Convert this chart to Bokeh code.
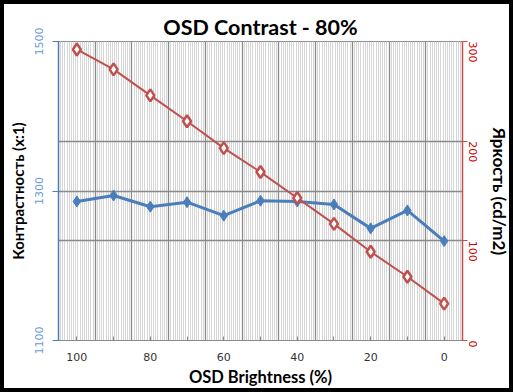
import math
import numpy as np
from bokeh.plotting import figure
from bokeh.models import Range1d, LinearAxis, FixedTicker, Grid, ColumnDataSource
from bokeh.embed import file_html
from bokeh.resources import INLINE

# ---- data ----
brightness = [100, 90, 80, 70, 60, 50, 40, 30, 20, 10, 0]
contrast = [1286, 1294, 1279, 1285, 1267, 1287, 1286, 1282, 1250, 1274, 1233]
luminance = [292, 272, 246, 220, 193, 169, 143, 117, 89, 64, 37]
x_labeled_ticks = [100, 80, 60, 40, 20, 0]
x_minor_ticks = [90, 70, 50, 30, 10]
left_ticks = [1100, 1300, 1500]
right_ticks = [0, 100, 200, 300]

BLUE = "#4a7ebb"
RED = "#c0504d"
GRID = "#8a8a8a"
FONT = "Lato"

src = ColumnDataSource(dict(x=brightness, c=contrast, l=luminance))

p = figure(width=513, height=392, output_backend="svg", toolbar_location=None,
           x_range=Range1d(105, -5), y_range=Range1d(1100, 1500),
           min_border_left=54, min_border_right=55, min_border_top=37, min_border_bottom=56)
p.styles = {"border": "4px solid black"}
p.background_fill_color = "white"
p.border_fill_color = "white"
p.outline_line_color = GRID
p.outline_line_width = 1

# title
p.title.text = "OSD Contrast - 80%"
p.title.align = "center"
p.title.offset = -4
p.title.text_font = FONT
p.title.text_font_size = "21.5px"
p.title.text_font_style = "bold"
p.title.text_color = "black"
p.title.standoff = 4

# x axis
xa = p.xaxis[0]
xa.ticker = FixedTicker(ticks=x_labeled_ticks, minor_ticks=x_minor_ticks)
xa.axis_label = "OSD Brightness (%)"
xa.axis_label_text_font = FONT
xa.axis_label_text_font_size = "16.5px"
xa.axis_label_text_font_style = "bold"
xa.axis_label_text_color = "black"
xa.axis_label_standoff = 3
xa.major_label_text_font = "DejaVu Sans"
xa.major_label_text_font_size = "11px"
xa.major_label_text_color = "#333333"
xa.major_label_standoff = 12
xa.axis_line_color = GRID
xa.major_tick_line_color = GRID
xa.minor_tick_line_color = GRID
xa.major_tick_in = 4
xa.major_tick_out = 0
xa.minor_tick_in = 4
xa.minor_tick_out = 0

# left axis
ya = p.yaxis[0]
ya.ticker = FixedTicker(ticks=left_ticks)
ya.axis_label = "Контрастность (x:1)"
ya.axis_label_text_font = FONT
ya.axis_label_text_font_size = "15px"
ya.axis_label_text_font_style = "bold"
ya.axis_label_text_color = "black"
ya.axis_label_standoff = 5
ya.major_label_orientation = "vertical"
ya.major_label_text_font = "DejaVu Sans"
ya.major_label_text_font_size = "11px"
ya.major_label_text_color = "#6b9ad6"
ya.major_label_standoff = 10
ya.axis_line_color = BLUE
ya.axis_line_width = 1.5
ya.major_tick_line_color = BLUE
ya.major_tick_in = 0
ya.major_tick_out = 6
ya.minor_tick_line_color = None

# right axis
p.extra_y_ranges = {"right": Range1d(0, 300)}
ra = LinearAxis(y_range_name="right", ticker=FixedTicker(ticks=right_ticks))
ra.axis_label = "Яркость (cd/m2)"
ra.axis_label_text_font = FONT
ra.axis_label_text_font_size = "17px"
ra.axis_label_text_font_style = "bold"
ra.axis_label_text_color = "black"
ra.axis_label_standoff = 5
ra.major_label_orientation = -math.pi / 2
ra.major_label_text_font = "DejaVu Sans"
ra.major_label_text_font_size = "11px"
ra.major_label_text_color = "#cc0000"
ra.major_label_standoff = 5
ra.axis_line_color = RED
ra.axis_line_width = 1.5
ra.major_tick_line_color = RED
ra.major_tick_in = 0
ra.major_tick_out = 5
ra.minor_tick_line_color = None
p.add_layout(ra, "right")

# grids
p.xgrid.ticker = FixedTicker(ticks=[b - 5 for b in brightness[:-1]],
                             minor_ticks=list(np.arange(-5, 105, 10 / 17)))
p.xgrid.grid_line_color = GRID
p.xgrid.grid_line_width = 1.3
p.xgrid.minor_grid_line_color = "#d6d6d6"
p.xgrid.minor_grid_line_width = 1
p.ygrid.ticker = FixedTicker(ticks=left_ticks)
p.ygrid.grid_line_color = GRID
p.ygrid.grid_line_width = 1.3
rgrid = Grid(dimension=1, y_range_name="right", ticker=FixedTicker(ticks=right_ticks),
             grid_line_color=GRID, grid_line_width=1.3)
p.add_layout(rgrid)

# series
p.line("x", "c", source=src, line_color=BLUE, line_width=3)
p.scatter("x", "c", source=src, marker="diamond", size=11, fill_color=BLUE,
          line_color=BLUE, line_width=1)
p.line("x", "l", source=src, y_range_name="right", line_color=RED, line_width=2)
p.scatter("x", "l", source=src, y_range_name="right", marker="diamond", size=12,
          fill_color="white", line_color=RED, line_width=2.5)

open("out.html", "w").write(file_html(p, INLINE))
